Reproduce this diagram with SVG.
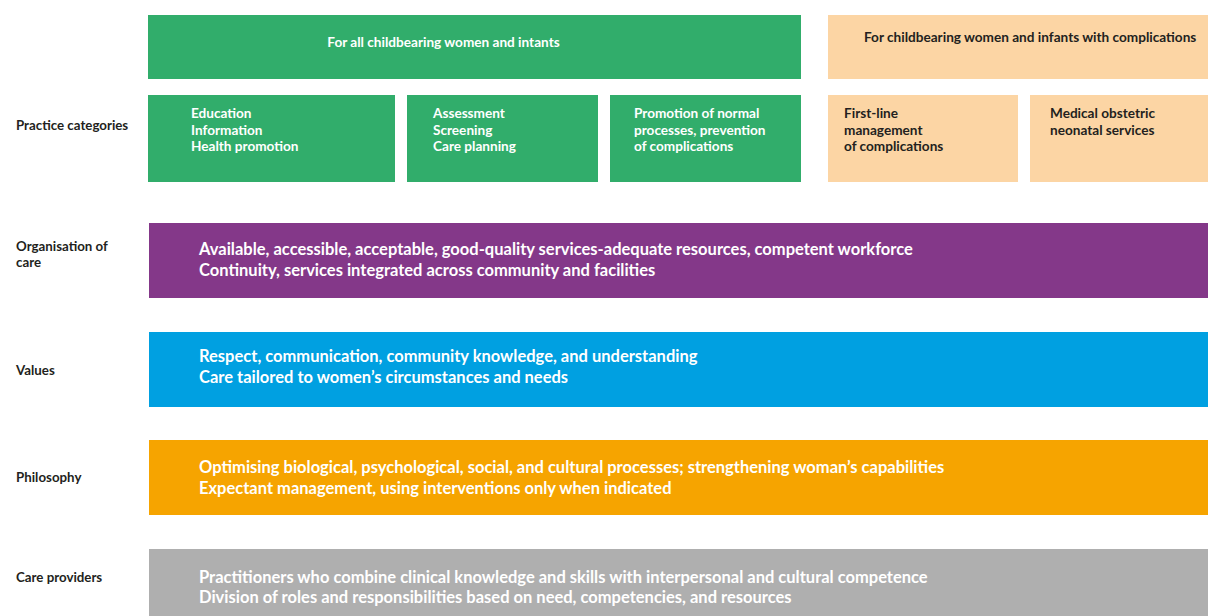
<svg xmlns="http://www.w3.org/2000/svg" width="1208" height="616" viewBox="0 0 1208 616">
<style>
.g{fill:#31AD6B}.p{fill:#FCD5A4}
.lbl{font-family:Lato,"Open Sans",sans-serif;font-weight:bold;font-size:13.3px;fill:#231F20}
.bw{font-family:Lato,"Open Sans",sans-serif;font-weight:bold;font-size:13.6px;fill:#fff}
.bd{font-family:Lato,"Open Sans",sans-serif;font-weight:bold;font-size:13.6px;fill:#231F20}
.band{font-family:Lato,"Open Sans",sans-serif;font-weight:bold;font-size:16.5px;fill:#fff}
</style>
<rect width="1208" height="616" fill="#fff"/>
<g id="labels">
<text class="lbl" x="16" y="130">Practice categories</text>
<text class="lbl" x="16" y="251">Organisation of</text>
<text class="lbl" x="16" y="267">care</text>
<text class="lbl" x="16" y="375">Values</text>
<text class="lbl" x="16" y="482">Philosophy</text>
<text class="lbl" x="16" y="582">Care providers</text>
</g>
<g id="all-women"><rect class="g" x="148" y="15" width="653" height="64"/><text class="bw" x="443.5" y="47" text-anchor="middle">For all childbearing women and intants</text></g>
<g id="education"><rect class="g" x="148" y="95" width="247" height="87"/><text class="bw" x="191" y="117.5">Education</text><text class="bw" x="191" y="134.5">Information</text><text class="bw" x="191" y="150.5">Health promotion</text></g>
<g id="assessment"><rect class="g" x="407" y="95" width="191" height="87"/><text class="bw" x="433" y="117.5">Assessment</text><text class="bw" x="433" y="134.5">Screening</text><text class="bw" x="433" y="150.5">Care planning</text></g>
<g id="promotion"><rect class="g" x="610" y="95" width="191" height="87"/><text class="bw" x="634" y="117.5">Promotion of normal</text><text class="bw" x="634" y="134.5">processes, prevention</text><text class="bw" x="634" y="150.5">of complications</text></g>
<g id="complications"><rect class="p" x="828" y="15" width="380" height="64"/><text class="bd" x="864" y="41.5">For childbearing women and infants with complications</text></g>
<g id="first-line"><rect class="p" x="828" y="95" width="190" height="87"/><text class="bd" x="844" y="117.5">First-line</text><text class="bd" x="844" y="134.5">management</text><text class="bd" x="844" y="150.5">of complications</text></g>
<g id="medical"><rect class="p" x="1030" y="95" width="178" height="87"/><text class="bd" x="1050" y="117.5">Medical obstetric</text><text class="bd" x="1050" y="134.5">neonatal services</text></g>
<g id="organisation"><rect fill="#843889" x="149" y="223" width="1059" height="75"/><text class="band" x="199" y="255">Available, accessible, acceptable, good-quality services-adequate resources, competent workforce</text><text class="band" x="199" y="276">Continuity, services integrated across community and facilities</text></g>
<g id="values"><rect fill="#00A0E1" x="149" y="332" width="1059" height="75"/><text class="band" x="199" y="362">Respect, communication, community knowledge, and understanding</text><text class="band" x="199" y="383">Care tailored to women’s circumstances and needs</text></g>
<g id="philosophy"><rect fill="#F6A400" x="149" y="440" width="1059" height="75"/><text class="band" x="199" y="473">Optimising biological, psychological, social, and cultural processes; strengthening woman’s capabilities</text><text class="band" x="199" y="494">Expectant management, using interventions only when indicated</text></g>
<g id="providers"><rect fill="#AFAFAF" x="149" y="549" width="1059" height="67"/><text class="band" x="199" y="583">Practitioners who combine clinical knowledge and skills with interpersonal and cultural competence</text><text class="band" x="199" y="603">Division of roles and responsibilities based on need, competencies, and resources</text></g>
<g id="connectors"/>
</svg>
